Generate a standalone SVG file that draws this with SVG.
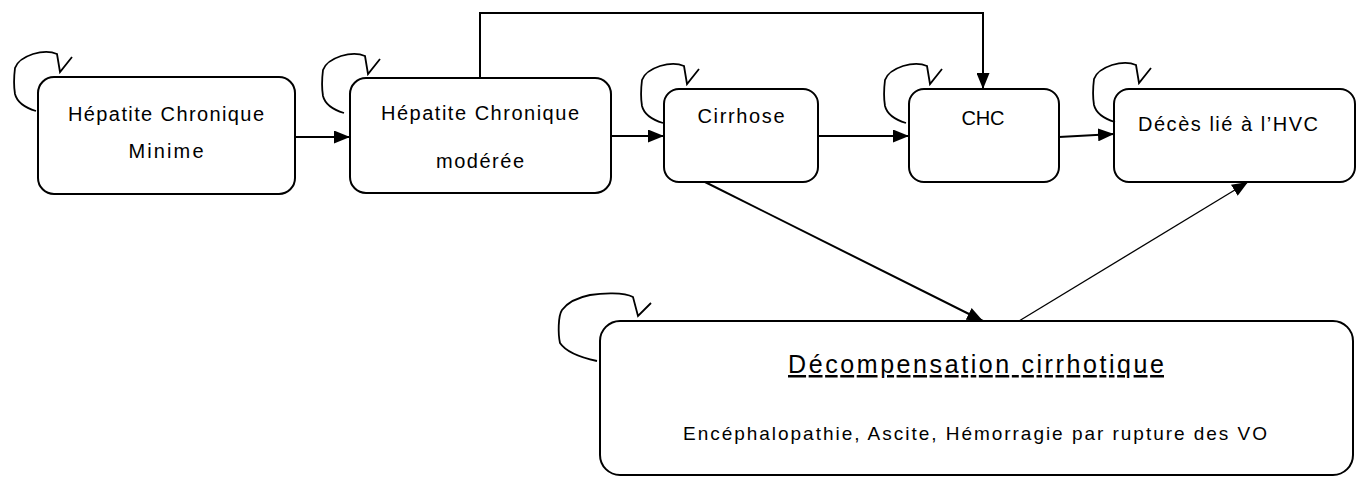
<svg xmlns="http://www.w3.org/2000/svg" xmlns:xlink="http://www.w3.org/1999/xlink" width="1361" height="477" viewBox="0 0 1361 477">
<style>
.box{fill:#fff;stroke:#000;stroke-width:2}
.lbl{font-family:"Liberation Sans",Arial,sans-serif;font-size:20px;fill:#000;text-anchor:middle}
.title{font-family:"Liberation Sans",Arial,sans-serif;font-size:25px;fill:#000;text-anchor:middle;text-decoration:underline}
.sub{font-family:"Liberation Sans",Arial,sans-serif;font-size:19px;fill:#000;text-anchor:middle}
.edge{fill:none;stroke:#000;stroke-width:2}
.thin{fill:none;stroke:#000;stroke-width:1.3}
.loop{fill:none;stroke:#000;stroke-width:1.8;stroke-linejoin:miter}
</style>
<defs>
<marker id="ah" markerUnits="userSpaceOnUse" markerWidth="16" markerHeight="13" refX="16" refY="6.5" orient="auto">
<path d="M0,0 L16,6.5 L0,13 z" fill="#000"/>
</marker>
<path id="loopS" d="M-24,39 C-34,36 -43,30 -45,22 C-46,16 -46,4 -45,-4 C-43,-10 -36,-15 -27,-18 C-20,-20 -10,-21 -3,-18 L0,0 L12,-15"/>
<path id="loopL" d="M-41,45 C-55,42 -72,36 -78,27 C-80,18 -80,0 -76,-6 C-70,-14 -58,-19 -48,-21 C-36,-23 -14,-24 -5,-19 L0,0 L13,-13"/>
</defs>

<g id="node-hcm">
<rect class="box" x="38" y="77" width="257" height="117" rx="16"/>
<text class="lbl" x="166" y="121" textLength="196" lengthAdjust="spacing">Hépatite Chronique</text>
<text class="lbl" x="166" y="158" textLength="75" lengthAdjust="spacing">Minime</text>
</g>
<g id="node-hcmod">
<rect class="box" x="350" y="78" width="261" height="115" rx="16"/>
<text class="lbl" x="480" y="120" textLength="198" lengthAdjust="spacing">Hépatite Chronique</text>
<text class="lbl" x="480" y="168" textLength="88" lengthAdjust="spacing">modérée</text>
</g>
<g id="node-cirrhose">
<rect class="box" x="664" y="89" width="154" height="93" rx="15"/>
<text class="lbl" x="741" y="123" textLength="87" lengthAdjust="spacing">Cirrhose</text>
</g>
<g id="node-chc">
<rect class="box" x="909" y="89" width="150" height="93" rx="15"/>
<text class="lbl" x="983" y="125" textLength="43" lengthAdjust="spacing">CHC</text>
</g>
<g id="node-deces">
<rect class="box" x="1114" y="89" width="241" height="93" rx="15"/>
<text class="lbl" x="1228" y="131" textLength="180" lengthAdjust="spacing">Décès lié à  l’HVC</text>
</g>
<g id="node-decomp">
<rect class="box" x="600" y="321" width="753" height="154" rx="20"/>
<text class="title" x="976" y="373" textLength="376" lengthAdjust="spacing">Décompensation  cirrhotique</text>
<text class="sub" x="975" y="440" textLength="584" lengthAdjust="spacing">Encéphalopathie, Ascite, Hémorragie par rupture des VO</text>
</g>

<g id="connectors">
<path class="edge" d="M295,137 H350" marker-end="url(#ah)"/>
<path class="edge" d="M611,136 H664" marker-end="url(#ah)"/>
<path class="edge" d="M818,136 H909" marker-end="url(#ah)"/>
<path class="edge" d="M1059,137 L1114,134" marker-end="url(#ah)"/>
<path class="edge" d="M480,78 V13 H983 V89" marker-end="url(#ah)"/>
<path class="edge" d="M705,182 L983,321" marker-end="url(#ah)"/>
<path class="thin" d="M1019,321 L1248,182" marker-end="url(#ah)"/>
<use class="loop" xlink:href="#loopS" href="#loopS" transform="translate(60,72)"/>
<use class="loop" xlink:href="#loopS" href="#loopS" transform="translate(368,74)"/>
<use class="loop" xlink:href="#loopS" href="#loopS" transform="translate(687,84)"/>
<use class="loop" xlink:href="#loopS" href="#loopS" transform="translate(930,84)"/>
<use class="loop" xlink:href="#loopS" href="#loopS" transform="translate(1139,83)"/>
<use class="loop" xlink:href="#loopL" href="#loopL" transform="translate(638,316)"/>
</g>
</svg>
